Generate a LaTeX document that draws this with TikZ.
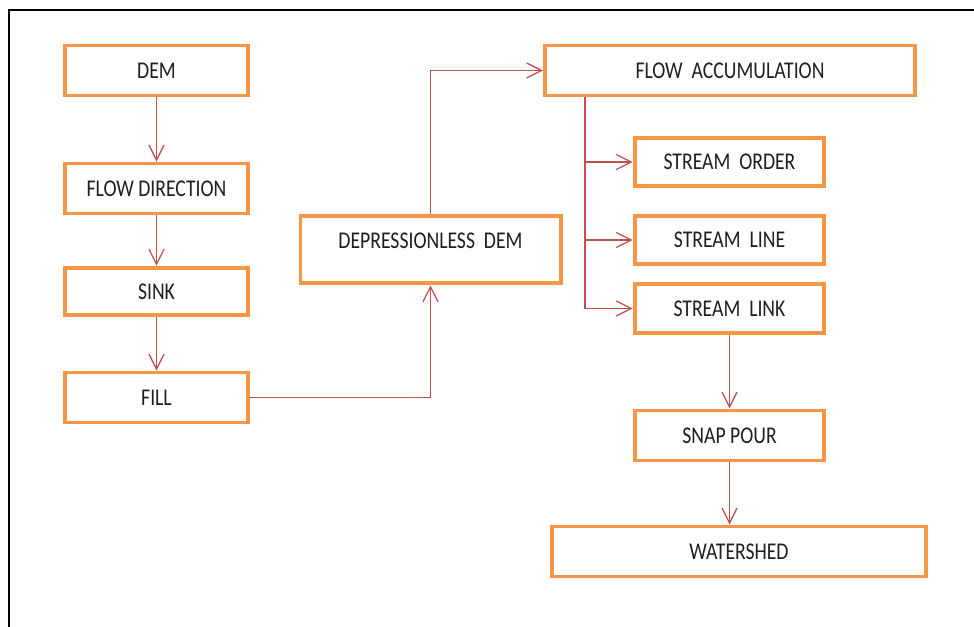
\documentclass[tikz,border=0pt]{standalone}
\usepackage{fontspec}
\setmainfont{Carlito}
\newfontfamily\boxfont[FakeStretch=0.82]{Carlito}
\usetikzlibrary{arrows.meta, positioning, calc}
\definecolor{boxorange}{RGB}{247,150,70}
\definecolor{flowred}{RGB}{192,80,77}
\tikzset{
    step box/.style={rectangle, draw=boxorange, line width=3.4pt, fill=white, minimum width=5.5cm, minimum height=1.5cm, align=center, font=\boxfont\fontsize{20.5}{24}\selectfont, text=black!88},
    stream box/.style={step box, minimum width=5.69cm, minimum height=1.46cm},
    wide box/.style={step box, minimum width=11.1cm},
    flow/.style={draw=flowred, line width=1.1pt, -{Straight Barb[length=4.5mm, width=4.5mm]}}
}
\begin{document}
\begin{tikzpicture}[x=0.03cm, y=-0.03cm]
    \useasboundingbox (0,0) rectangle (974,627);
    \draw[line width=2.2pt] (9,627) -- (9,10) -- (974,10);

    % left column
    \node[step box] (dem) at (156.5,70.5) {DEM};
    \node[step box] (flowdir) at (156.5,188.5) {FLOW DIRECTION};
    \node[step box, minimum height=1.43cm] (sink) at (156.5,291.5) {SINK};
    \node[step box] (fill) at (156.5,397.5) {FILL};

    % middle
    \node[step box, minimum width=7.8cm, minimum height=2.03cm, text depth=0.55cm] (depless) at (430.5,249.5) {DEPRESSIONLESS\ \ DEM};

    % right column
    \node[wide box] (flowacc) at (730,70.5) {FLOW\ \ ACCUMULATION};
    \node[stream box] (order) at (729.5,162) {STREAM\ \ ORDER};
    \node[stream box] (line) at (729.5,240) {STREAM\ \ LINE};
    \node[stream box] (link) at (729.5,308.5) {STREAM\ \ LINK};
    \node[stream box, minimum height=1.5cm] (snap) at (729.5,435.5) {SNAP POUR};
    \node[wide box, minimum width=11.2cm] (watershed) at (739,551.5) {WATERSHED};

    \draw[flow] (dem) -- (flowdir);
    \draw[flow] (flowdir) -- (sink);
    \draw[flow] (sink) -- (fill);
    \draw[flow] (fill.east) -| (depless.south);
    \draw[flow] (depless.north) |- (flowacc.west);
    \draw[flow] ([xshift=1.26cm]flowacc.south west) |- (order.west);
    \draw[flow] ([xshift=1.26cm]flowacc.south west) |- (line.west);
    \draw[flow] ([xshift=1.26cm]flowacc.south west) |- (link.west);
    \draw[flow] (link) -- (snap);
    \draw[flow] (snap.south) -- (snap.south |- watershed.north);
\end{tikzpicture}
\end{document}
